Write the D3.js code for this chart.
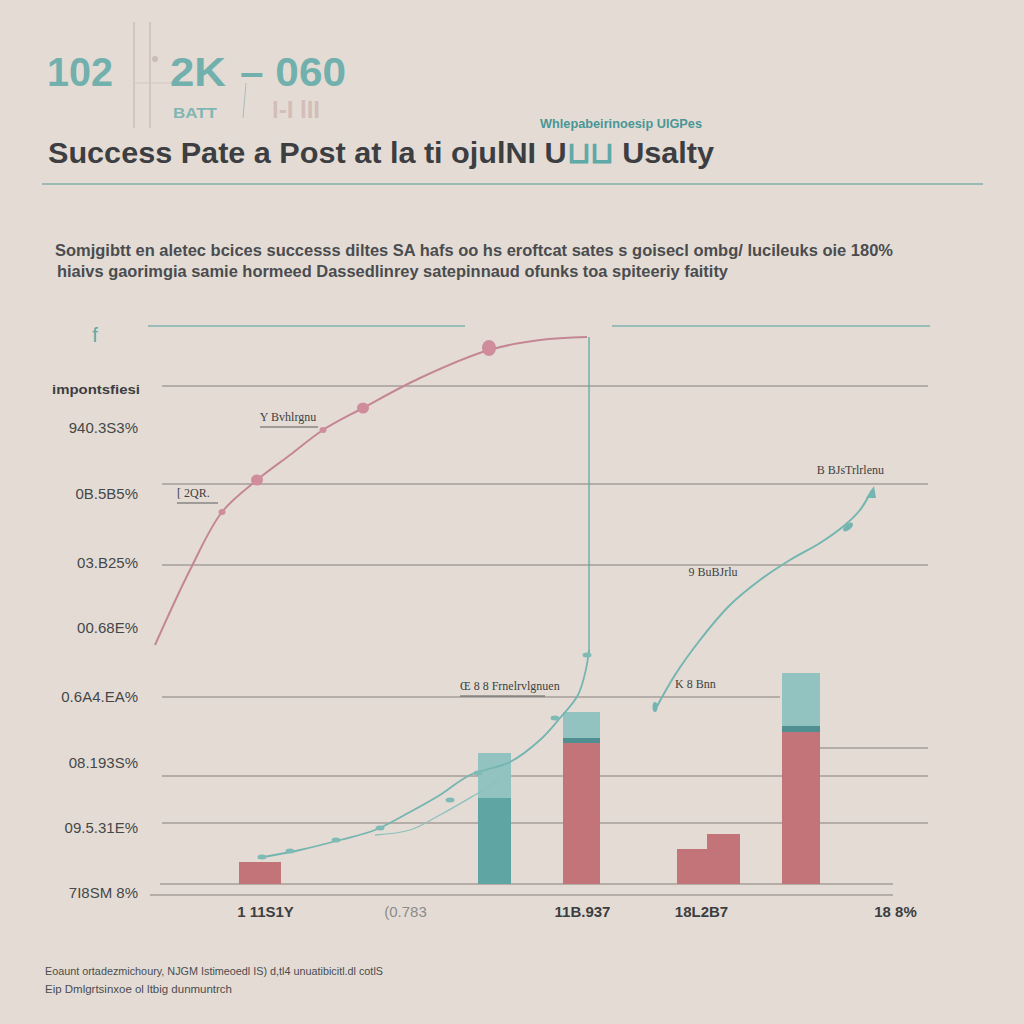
<!DOCTYPE html>
<html><head><meta charset="utf-8">
<script src="https://cdn.jsdelivr.net/npm/d3@7"></script>
<style>
html,body{margin:0;padding:0;background:#e4dcd4;}
svg{display:block;}
</style></head>
<body>
<svg id="chart" width="1024" height="1024"></svg>
<script>
// ---------- DATA ----------
const yTickValues = [91.2, 78, 64.2, 51.2, 37.4, 24.2, 11.2, -1.8];
const yTickLabels = ["940.3S3%", "0B.5B5%", "03.B25%", "00.68E%", "0.6A4.EA%", "08.193S%", "09.5.31E%", "7I8SM 8%"];
const xTickValues = [11.5, 25.5, 43.2, 55.1, 74.5];
const xTickLabels = ["1 11S1Y", "(0.783", "11B.937", "18L2B7", "18 8%"];
const gridValues = [99.6, 80, 63.8, 37.4, 27.2, 21.6, 12.2, 0, -2.2];

const pinkX = [0.5, 4.0, 7.2, 10.7, 14.0, 17.3, 21.3, 27.0, 33.9, 39.0, 43.7];
const pinkY = [47.8, 62.8, 74.4, 80.8, 85.8, 90.8, 95.2, 101.2, 106.8, 108.8, 109.4];
const pinkDotX = [7.2, 10.7, 17.3, 21.3, 33.9];
const pinkDotY = [74.4, 80.8, 90.8, 95.2, 107.2];

const tealAX = [10.8, 15, 19, 22.5, 26, 29, 32, 36, 39, 41, 42.8, 43.6, 43.9];
const tealAY = [5.2, 6.8, 8.8, 10.8, 14.4, 17.8, 21.8, 24.4, 28.8, 33.2, 37.8, 43, 46.8];
const tealA2X = [22.5, 26, 29, 32.5, 35];
const tealA2Y = [9.8, 10.8, 13.8, 17.8, 20.8];
const tealDotX = [11.2, 14, 18.6, 23, 30, 32.8, 40.5, 43.7];
const tealDotY = [5.4, 6.6, 8.8, 11.2, 16.8, 22.2, 33.2, 45.8];

const tealBX = [50.5, 52.5, 55, 58, 61, 64, 67, 69.5, 71, 72.2];
const tealBY = [34.8, 41.8, 48.8, 55.8, 60.8, 64.8, 68.2, 71.8, 74.8, 78.8];

const vlineX = 43.9;
const vlineY = [45.8, 109.4];

const barCenters = [11, 34.45, 43.15, 54.2, 57.35, 65.1];
const barPink = [4.4, 0, 28.2, 7.0, 10.0, 30.4];
const barDarkTeal = [0, 17.2, 1.0, 0, 0, 1.2];
const barLightTeal = [0, 9.0, 5.2, 0, 0, 10.6];

const annTexts = ["Y Bvhlrgnu", "[ 2QR.", "B BJsTrlrlenu", "9 BuBJrlu", "Œ 8 8 Frnelrvlgnuen", "K 8 Bnn"];
const annX = [13.8, 2.7, 73.4, 56.3, 31.0, 52.5];
const annY = [92.6, 77.4, 82.0, 61.6, 38.8, 39.2];

// ---------- LAYOUT / STYLE ----------
const barWidths = [42, 33, 37, 30, 33, 38];
const gridExtents = [[1.2,77.8],[1.2,77.8],[1.2,77.8],[1.2,63],[67,77.8],[1.2,77.8],[1.2,77.8],[1,74.3],[0,74.3]];
const annAnchor = ["middle", "start", "end", "middle", "start", "start"];
const annUnderline = [[11,16.8],[2.7,6.8],null,null,[31,39.5],null];

const C = {
  bg: "#e4dcd4", teal: "#5fa9a7", lightTeal: "#92c3c0", darkTeal: "#4f8f92",
  pink: "#c27479", pinkLine: "#c48693", grid: "#77726e", text: "#3c3e41"
};

const svg = d3.select("#chart");
svg.append("rect").attr("width",1024).attr("height",1024).attr("fill",C.bg);

const x = d3.scaleLinear().domain([0, 78]).range([150, 930]);
const y = d3.scaleLinear().domain([0, 100]).range([884, 384]);

// ---------- HEADER ----------
const hdr = svg.append("g");
hdr.append("line").attr("x1",134).attr("x2",134).attr("y1",22).attr("y2",128).attr("stroke","#cdbfb6").attr("stroke-width",1.5);
hdr.append("line").attr("x1",150).attr("x2",150).attr("y1",22).attr("y2",128).attr("stroke","#cdbfb6").attr("stroke-width",1.5);
hdr.append("line").attr("x1",134).attr("x2",190).attr("y1",83).attr("y2",83).attr("stroke","#d3c7bf").attr("stroke-width",1);
hdr.append("circle").attr("cx",155).attr("cy",59).attr("r",3).attr("fill","#cbbdb5");
hdr.append("text").attr("x",47).attr("y",86).attr("font-family","Liberation Sans, Arial").attr("font-weight","bold").attr("font-size",40).attr("fill",C.teal).attr("opacity",0.85).attr("textLength",66).attr("lengthAdjust","spacingAndGlyphs").text("102");
hdr.append("text").attr("x",170).attr("y",86).attr("font-family","Liberation Sans, Arial").attr("font-weight","bold").attr("font-size",40).attr("fill",C.teal).attr("opacity",0.85).attr("textLength",56).attr("lengthAdjust","spacingAndGlyphs").text("2K");
hdr.append("text").attr("x",240).attr("y",86).attr("font-family","Liberation Sans, Arial").attr("font-weight","bold").attr("font-size",40).attr("fill",C.teal).attr("opacity",0.85).attr("textLength",106).attr("lengthAdjust","spacingAndGlyphs").text("– 060");
hdr.append("line").attr("x1",246).attr("x2",243).attr("y1",83).attr("y2",118).attr("stroke","#a9bdb9").attr("stroke-width",1);
hdr.append("text").attr("x",173).attr("y",118).attr("font-family","Liberation Sans, Arial").attr("font-weight","bold").attr("font-size",15).attr("fill",C.teal).attr("opacity",0.75).attr("textLength",44).attr("lengthAdjust","spacingAndGlyphs").text("BATT");
hdr.append("text").attr("x",272).attr("y",118).attr("font-family","Liberation Sans, Arial").attr("font-weight","bold").attr("font-size",24).attr("fill","#c7aaa8").attr("opacity",0.6).attr("textLength",48).attr("lengthAdjust","spacingAndGlyphs").text("I-I lII");
hdr.append("text").attr("x",540).attr("y",128).attr("font-family","Liberation Sans, Arial").attr("font-weight","bold").attr("font-size",13).attr("fill","#4a9696").attr("textLength",162).attr("lengthAdjust","spacingAndGlyphs").text("Whlepabeirinoesip UlGPes");

const title = hdr.append("text").attr("x",48).attr("y",163).attr("font-family","Liberation Sans, Arial").attr("font-weight","bold").attr("font-size",30).attr("fill",C.text).attr("textLength",666).attr("lengthAdjust","spacingAndGlyphs");
title.append("tspan").text("Success Pate a Post at la ti ojulNI U");
title.append("tspan").attr("fill",C.teal).text("⊔⊔");
title.append("tspan").text(" Usalty");
hdr.append("line").attr("x1",42).attr("x2",983).attr("y1",184).attr("y2",184).attr("stroke","#7fb0ad").attr("stroke-width",1.5);

hdr.append("text").attr("x",55).attr("y",256).attr("font-family","Liberation Sans, Arial").attr("font-weight","bold").attr("font-size",17).attr("fill","#4a4c50").attr("textLength",838).attr("lengthAdjust","spacingAndGlyphs").text("Somjgibtt en aletec bcices successs diltes SA hafs oo hs eroftcat sates s goisecl ombg/ lucileuks oie 180%");
hdr.append("text").attr("x",57).attr("y",277).attr("font-family","Liberation Sans, Arial").attr("font-weight","bold").attr("font-size",17).attr("fill","#4a4c50").attr("textLength",671).attr("lengthAdjust","spacingAndGlyphs").text("hiaivs gaorimgia samie hormeed Dassedlinrey satepinnaud ofunks toa spiteeriy faitity");

// ---------- PLOT ----------
const g = svg.append("g");
// top teal lines
g.append("line").attr("x1",148).attr("x2",465).attr("y1",326).attr("y2",326).attr("stroke","#7fb3b0").attr("stroke-width",1.5);
g.append("line").attr("x1",612).attr("x2",930).attr("y1",326).attr("y2",326).attr("stroke","#7fb3b0").attr("stroke-width",1.5);
g.append("text").attr("x",95).attr("y",342).attr("text-anchor","middle").attr("font-family","Liberation Sans, Arial").attr("font-size",20).attr("fill",C.teal).text("f");
g.append("text").attr("x",52).attr("y",394).attr("font-family","Liberation Sans, Arial").attr("font-weight","bold").attr("font-size",13).attr("fill",C.text).attr("textLength",88).attr("lengthAdjust","spacingAndGlyphs").text("impontsfiesi");

// gridlines
g.selectAll("line.grid").data(gridValues).join("line").attr("class","grid")
  .attr("x1",(d,i)=>x(gridExtents[i][0])).attr("x2",(d,i)=>x(gridExtents[i][1]))
  .attr("y1",d=>y(d)).attr("y2",d=>y(d))
  .attr("stroke",C.grid).attr("stroke-width",1.2).attr("opacity",0.85);

// y axis
const yAxis = d3.axisLeft(y).tickValues(yTickValues).tickFormat((d,i)=>yTickLabels[i]).tickSize(0).tickPadding(0);
const ya = g.append("g").attr("transform","translate(138,0)").call(yAxis);
ya.select(".domain").remove();
ya.selectAll("text").attr("font-family","Liberation Sans, Arial").attr("font-size",15).attr("fill","#45474a");

// x axis
const xAxis = d3.axisBottom(x).tickValues(xTickValues).tickFormat((d,i)=>xTickLabels[i]).tickSize(0).tickPadding(0);
const xa = g.append("g").attr("transform","translate(0,906)").call(xAxis);
xa.select(".domain").remove();
xa.selectAll("text").attr("font-family","Liberation Sans, Arial").attr("font-weight","bold").attr("font-size",15).attr("fill",(d,i)=>i===1?"#8b8b8b":"#3c3e41").attr("font-weight",(d,i)=>i===1?"normal":"bold");

// bars
const segs = [];
barCenters.forEach((c,i)=>{
  let base = 0;
  [[barPink[i],C.pink],[barDarkTeal[i],C.darkTeal],[barLightTeal[i],C.lightTeal]].forEach(([v,col])=>{
    if(v>0){ segs.push({c, w:barWidths[i], y0:base, y1:base+v, col}); base+=v; }
  });
});
// bar2 dark teal is the main teal colour
segs.forEach(s=>{ if(s.col===C.darkTeal && s.y1-s.y0>5) s.col="#5fa5a3"; });
g.selectAll("rect.bar").data(segs).join("rect").attr("class","bar")
  .attr("x",d=>x(d.c)-d.w/2).attr("width",d=>d.w)
  .attr("y",d=>y(d.y1)).attr("height",d=>y(d.y0)-y(d.y1))
  .attr("fill",d=>d.col);

// vertical teal line
g.append("line").attr("x1",x(vlineX)).attr("x2",x(vlineX)).attr("y1",y(vlineY[0])).attr("y2",y(vlineY[1])).attr("stroke",C.teal).attr("stroke-width",1.3);

const line = d3.line().curve(d3.curveCatmullRom);
// pink curve
g.append("path").attr("d",line(pinkX.map((v,i)=>[x(v),y(pinkY[i])]))).attr("fill","none").attr("stroke",C.pinkLine).attr("stroke-width",2);
g.selectAll("ellipse.pd").data(pinkDotX).join("ellipse").attr("class","pd")
  .attr("cx",d=>x(d)).attr("cy",(d,i)=>y(pinkDotY[i]))
  .attr("rx",(d,i)=>i===4?7:i===1||i===3?6:3.5).attr("ry",(d,i)=>i===4?8:i===1||i===3?5.5:3)
  .attr("fill","#cf8d9b");

// teal curves
g.append("path").attr("d",line(tealAX.map((v,i)=>[x(v),y(tealAY[i])]))).attr("fill","none").attr("stroke","#74b5b1").attr("stroke-width",1.8);
g.append("path").attr("d",line(tealA2X.map((v,i)=>[x(v),y(tealA2Y[i])]))).attr("fill","none").attr("stroke","#8cc0bd").attr("stroke-width",1.3);
g.selectAll("ellipse.td").data(tealDotX).join("ellipse").attr("class","td")
  .attr("cx",d=>x(d)).attr("cy",(d,i)=>y(tealDotY[i])).attr("rx",4.5).attr("ry",2.5)
  .attr("fill","#7fbab6");
g.append("path").attr("d",line(tealBX.map((v,i)=>[x(v),y(tealBY[i])]))).attr("fill","none").attr("stroke","#74b5b1").attr("stroke-width",2);
g.append("ellipse").attr("cx",x(tealBX[0])).attr("cy",y(tealBY[0])-3).attr("rx",2.5).attr("ry",5).attr("fill","#74b5b1");
g.append("ellipse").attr("cx",x(69.8)).attr("cy",y(71.4)).attr("rx",6).attr("ry",3).attr("transform",`rotate(-40 ${x(69.8)} ${y(71.4)})`).attr("fill","#74b5b1");
const tip = [x(tealBX[tealBX.length-1]), y(tealBY[tealBY.length-1])];
g.append("path").attr("d",`M${tip[0]-6},${tip[1]+8} L${tip[0]+2},${tip[1]-4} L${tip[0]+4},${tip[1]+8} Z`).attr("fill","#74b5b1");

// annotations
g.selectAll("text.ann").data(annTexts).join("text").attr("class","ann")
  .attr("x",(d,i)=>x(annX[i])).attr("y",(d,i)=>y(annY[i]))
  .attr("text-anchor",(d,i)=>annAnchor[i])
  .attr("font-family","Liberation Serif, serif").attr("font-size",12).attr("fill","#3e3f42").text(d=>d);
annUnderline.forEach((u,i)=>{
  if(!u) return;
  g.append("line").attr("x1",x(u[0])).attr("x2",x(u[1])).attr("y1",y(annY[i])+6).attr("y2",y(annY[i])+6).attr("stroke","#5a5a5a").attr("stroke-width",1);
});

// footer
svg.append("text").attr("x",45).attr("y",975).attr("font-family","Liberation Sans, Arial").attr("font-size",11).attr("fill","#4a4c50").attr("textLength",338).attr("lengthAdjust","spacingAndGlyphs").text("Eoaunt ortadezmichoury, NJGM Istimeoedl IS) d,tl4 unuatibicitl.dl cotlS");
svg.append("text").attr("x",45).attr("y",993).attr("font-family","Liberation Sans, Arial").attr("font-size",11).attr("fill","#4a4c50").attr("textLength",187).attr("lengthAdjust","spacingAndGlyphs").text("Eip Dmlgrtsinxoe ol ltbig dunmuntrch");
</script>
</body></html>
